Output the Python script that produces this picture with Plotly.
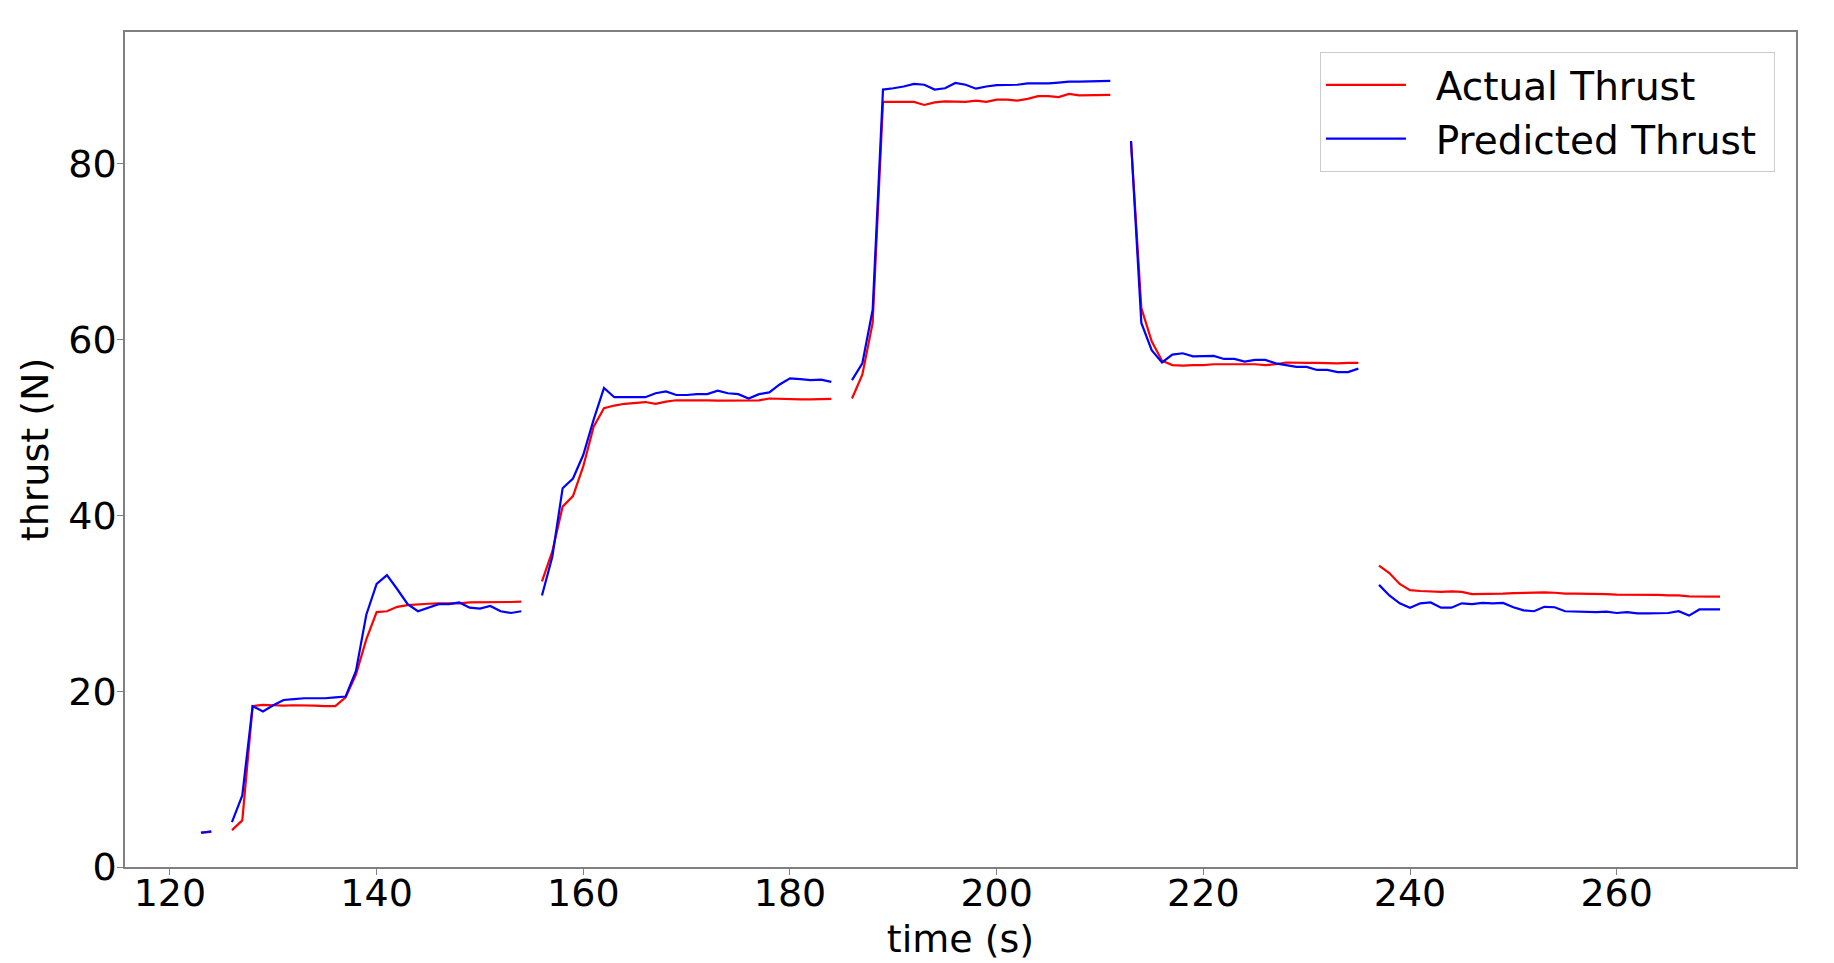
import plotly.graph_objects as go

# time in seconds, one sample per second (None = missing sample)
time = list(range(123, 271))

actual_thrust = [
    3.9, 4.0, None,
    4.2, 5.3, 18.3, 18.45, 18.4, 18.35, 18.4, 18.4, 18.35, 18.3, 18.3, 19.3, 21.9, 25.9, 29.0, 29.1,
    29.6, 29.8, 29.9, 29.95, 30.0, 30.0, 30.0, 30.1, 30.1, 30.1, 30.15, 30.15, 30.2, None,
    32.5, 35.9, 41.0, 42.2, 45.6, 50.1, 52.2, 52.5, 52.7, 52.8, 52.9, 52.7, 52.95, 53.1, 53.1,
    53.15, 53.1, 53.05, 53.05, 53.05, 53.1, 53.1, 53.3, 53.25, 53.25, 53.2, 53.2, 53.25, 53.25, None,
    53.3, 56.0, 61.9, 87.05, 87.05, 87.05, 87.05, 86.7, 87.0, 87.1, 87.1, 87.05, 87.2, 87.05,
    87.3, 87.3, 87.2, 87.4, 87.7, 87.7, 87.6, 87.95, 87.8, 87.8, 87.8, 87.85, None,
    82.5, 63.6, 59.8, 57.6, 57.1, 57.05, 57.1, 57.1, 57.2, 57.2, 57.25, 57.25, 57.2, 57.1, 57.2,
    57.4, 57.35, 57.35, 57.35, 57.3, 57.3, 57.35, 57.35, None,
    34.3, 33.45, 32.2, 31.5, 31.4, 31.35, 31.3, 31.35, 31.3, 31.05, 31.05, 31.05, 31.1, 31.15,
    31.2, 31.2, 31.25, 31.2, 31.1, 31.1, 31.1, 31.1, 31.05, 31.0, 31.0, 30.95, 30.95, 30.95,
    30.9, 30.9, 30.8, 30.8, 30.75, 30.75,
]

predicted_thrust = [
    3.9, 4.05, None,
    5.1, 8.15, 18.3, 17.7, 18.4, 19.0, 19.1, 19.2, 19.2, 19.2, 19.3, 19.4, 22.3, 28.7, 32.2, 33.2,
    31.6, 29.9, 29.1, 29.5, 29.9, 29.9, 30.1, 29.5, 29.4, 29.7, 29.1, 28.9, 29.1, None,
    30.9, 35.3, 43.1, 44.2, 46.9, 50.9, 54.5, 53.45, 53.45, 53.45, 53.45, 53.9, 54.1, 53.7, 53.7,
    53.8, 53.8, 54.2, 53.9, 53.8, 53.3, 53.8, 54.0, 54.9, 55.6, 55.5, 55.4, 55.45, 55.2, None,
    55.4, 57.3, 63.4, 88.45, 88.6, 88.8, 89.1, 89.0, 88.45, 88.6, 89.2, 89.0, 88.55, 88.8,
    88.95, 89.0, 89.0, 89.15, 89.15, 89.15, 89.25, 89.35, 89.35, 89.35, 89.4, 89.45, None,
    82.6, 61.9, 58.8, 57.4, 58.3, 58.45, 58.1, 58.15, 58.15, 57.8, 57.8, 57.5, 57.7, 57.7, 57.3,
    57.1, 56.9, 56.9, 56.55, 56.55, 56.3, 56.3, 56.7, None,
    32.1, 30.9, 30.0, 29.5, 30.0, 30.1, 29.5, 29.5, 30.0, 29.9, 30.05, 30.0, 30.05, 29.55,
    29.2, 29.1, 29.6, 29.55, 29.1, 29.05, 29.05, 29.0, 29.05, 28.9, 29.0, 28.85, 28.85, 28.85,
    28.9, 29.1, 28.6, 29.3, 29.3, 29.3,
]

font = "DejaVu Sans, Verdana, sans-serif"
axis_grey = "#808080"
gap = "\u00a0\u00a0"  # space between legend line and label, like matplotlib

fig = go.Figure()
fig.add_trace(go.Scatter(x=time, y=actual_thrust, mode='lines', name=gap + 'Actual Thrust',
                         line=dict(color='#ff0000', width=2.2)))
fig.add_trace(go.Scatter(x=time, y=predicted_thrust, mode='lines',
                         name=gap + 'Predicted Thrust\u00a0',
                         line=dict(color='#0000ff', width=2.2)))

# the page body adds an 8px margin, so the figure is 8px smaller on each side
fig.update_layout(
    width=1826, height=955,
    margin=dict(l=117, r=38, t=24, b=96),
    paper_bgcolor='white', plot_bgcolor='white',
    font=dict(family=font, size=38, color='black'),
    legend=dict(x=0.9874, y=0.976, xanchor='right', yanchor='top',
                bgcolor='rgba(255,255,255,0.8)', bordercolor='#cccccc', borderwidth=1,
                font=dict(size=39), itemwidth=80),
)
fig.update_xaxes(
    range=[115.65, 277.35], tickvals=[120, 140, 160, 180, 200, 220, 240, 260],
    showgrid=False, zeroline=False, showline=True, linecolor=axis_grey, linewidth=1.5,
    mirror=True, ticks='outside', ticklen=6, tickcolor=axis_grey, automargin=False,
    ticklabelstandoff=-14,
    title=dict(text='time (s)', standoff=11, font=dict(size=38)),
)
fig.update_yaxes(
    range=[0, 95], tickvals=[0, 20, 40, 60, 80],
    showgrid=False, zeroline=False, showline=True, linecolor=axis_grey, linewidth=1.5,
    mirror=True, ticks='outside', ticklen=6, tickcolor=axis_grey, automargin=False,
    ticklabelstandoff=-7,
    title=dict(text='thrust (N)', standoff=8, font=dict(size=38)),
)

fig.write_html("out.html")
